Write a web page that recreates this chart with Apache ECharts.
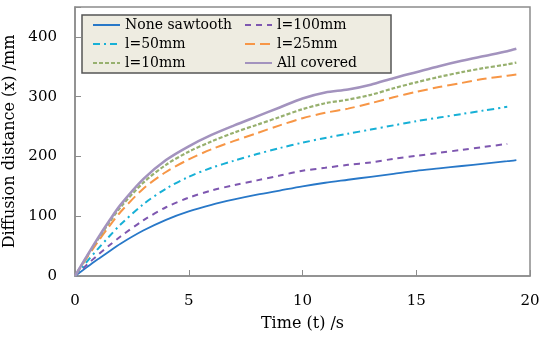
<!DOCTYPE html>
<html>
<head>
<meta charset="utf-8">
<script src="https://cdn.jsdelivr.net/npm/echarts@6/dist/echarts.min.js"></script>
<style>html,body{margin:0;padding:0;background:#fff}#c{width:550px;height:344px}</style>
</head>
<body>
<div id="c"></div>
<script>
const time = [0, 0.5, 1, 1.5, 2, 3, 4, 5, 6, 7, 8, 9, 10, 11, 12, 13, 14, 15, 16, 17, 18, 19, 19.4];
const noneSawtooth = [0, 14, 28, 41, 54, 76, 94, 108, 119, 128, 136, 143, 150, 156, 161, 166, 171, 176, 180, 184, 188, 192, 194];
const l100 = [0, 18, 35, 51, 66, 93, 115, 131, 143, 152, 160, 168, 176, 181, 186, 190, 196, 201, 206, 211, 216, 221, null];
const l50 = [0, 23, 45, 66, 86, 120, 146, 166, 181, 193, 204, 214, 223, 231, 238, 245, 252, 259, 265, 271, 277, 283, null];
const l25 = [0, 29, 57, 83, 107, 146, 174, 195, 212, 226, 239, 252, 264, 273, 280, 289, 299, 308, 316, 323, 330, 335, 337];
const l10 = [0, 31, 61, 89, 115, 156, 186, 208, 225, 240, 253, 266, 279, 289, 295, 303, 314, 324, 333, 341, 348, 354, 357];
const allCovered = [0, 32, 63, 92, 119, 162, 194, 217, 236, 252, 267, 282, 297, 307, 312, 320, 331, 341, 351, 360, 368, 376, 380];
const seriesNames = ['None sawtooth', 'l=100mm', 'l=50mm', 'l=25mm', 'l=10mm', 'All covered'];
const xTicks = [0, 5, 10, 15, 20];
const yTicks = [0, 100, 200, 300, 400];

function pairs(vals) { return time.map((t, i) => [t, vals[i]]).filter(p => p[1] !== null); }

const font = 'DejaVu Serif';
const styles = [
  { color: '#2878C8', width: 1.8, type: 'solid' },
  { color: '#7E57B0', width: 2, type: [6, 5] },
  { color: '#17B0D6', width: 2, type: [7, 4, 2, 4] },
  { color: '#F79646', width: 2, type: [10, 5] },
  { color: '#97B06E', width: 2.2, type: [4, 2] },
  { color: '#A393BE', width: 2.6, type: 'solid' }
];
const dataSets = [noneSawtooth, l100, l50, l25, l10, allCovered];

const chart = echarts.init(document.getElementById('c'), null, { renderer: 'canvas' });
chart.setOption({
  animation: false,
  backgroundColor: '#fff',
  grid: { left: 75, right: 20, top: 7, bottom: 68, show: true, borderColor: '#8c8c8c', borderWidth: 1.5,
    containLabel: false, outerBoundsMode: 'none' },
  legend: {
    left: 82, top: 15,
    padding: [3, 0, 3, 10],
    itemWidth: 27, itemHeight: 14, itemGap: 5,
    backgroundColor: '#EEECE1', borderColor: '#555', borderWidth: 1.5, borderRadius: 0,
    width: 320,
    itemStyle: { opacity: 0 },
    textStyle: { fontFamily: font, fontSize: 14, color: '#000', width: 114, lineHeight: 14 },
    data: seriesNames
  },
  xAxis: {
    type: 'value', min: 0, max: 20, interval: 5,
    name: 'Time (t) /s', nameLocation: 'middle', nameGap: 40,
    nameTextStyle: { fontFamily: font, fontSize: 16, color: '#000' },
    axisLine: { lineStyle: { color: '#8c8c8c', width: 1.5 } },
    axisTick: { inside: true, length: 6, lineStyle: { color: '#8c8c8c' } },
    axisLabel: { fontFamily: font, fontSize: 15, color: '#000', margin: 18,
      formatter: v => xTicks.includes(v) ? String(v) : '' },
    splitLine: { show: false }
  },
  yAxis: {
    type: 'value', min: 0, max: 450, interval: 100,
    name: 'Diffusion distance (x) /mm', nameLocation: 'middle', nameGap: 50,
    nameTextStyle: { fontFamily: font, fontSize: 16, color: '#000' },
    axisLine: { show: true, lineStyle: { color: '#8c8c8c', width: 1.5 } },
    axisTick: { show: true, inside: true, length: 6, lineStyle: { color: '#8c8c8c' } },
    axisLabel: { fontFamily: font, fontSize: 15, color: '#000', margin: 18,
      formatter: v => yTicks.includes(v) ? String(v) : '' },
    splitLine: { show: false }
  },
  series: seriesNames.map((n, i) => ({
    name: n, type: 'line', smooth: 0.3, showSymbol: false, symbol: 'none',
    data: pairs(dataSets[i]),
    itemStyle: { color: styles[i].color },
    lineStyle: { color: styles[i].color, width: styles[i].width, type: styles[i].type }
  }))
});
</script>
</body>
</html>
